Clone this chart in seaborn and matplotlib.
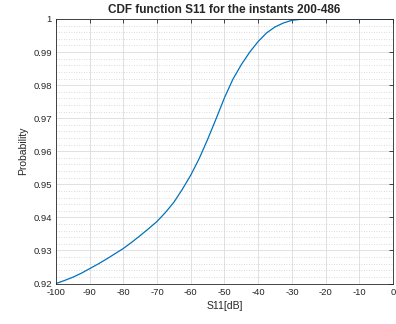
import numpy as np
import pandas as pd
import matplotlib
matplotlib.use("Agg")
import matplotlib.pyplot as plt
import seaborn as sns
from matplotlib.ticker import MultipleLocator

s11_db = [-100, -97.5, -95, -92.5, -90, -87.5, -85, -82.5, -80, -77.5, -75, -72.5, -70,
          -67.5, -65, -62.5, -60, -57.5, -55, -52.5, -50, -47.5, -45, -42.5, -40,
          -37.5, -35, -32.5, -30, -27.5, -25, -20, -15, -10, -5, 0]
probability = [0.9200, 0.9209, 0.9219, 0.9231, 0.9245, 0.9259, 0.9274, 0.9290, 0.9306, 0.9325, 0.9345, 0.9366, 0.9388,
               0.9415, 0.9446, 0.9485, 0.9528, 0.9578, 0.9636, 0.9698, 0.9762, 0.9818, 0.9862, 0.9900, 0.9932,
               0.9958, 0.9976, 0.9988, 0.9996, 0.9999, 1.0, 1.0, 1.0, 1.0, 1.0, 1.0]
x_ticks = list(range(-100, 1, 10))
y_ticks = [0.92, 0.93, 0.94, 0.95, 0.96, 0.97, 0.98, 0.99, 1.0]
y_tick_labels = ["0.92", "0.93", "0.94", "0.95", "0.96", "0.97", "0.98", "0.99", "1"]

sns.set_theme(style="white")
plt.rcParams['font.family'] = ['Liberation Sans', 'DejaVu Sans']
plt.rcParams['axes.unicode_minus'] = False

df = pd.DataFrame({"S11": s11_db, "P": probability})

fig = plt.figure(figsize=(3.96, 3.24), dpi=100)
ax = fig.add_axes([0.1414, 0.125, 0.851, 0.8164])

sns.lineplot(data=df, x="S11", y="P", ax=ax, color="#0072BD", linewidth=0.9)

ax.set_xlim(-100, 0)
ax.set_ylim(0.92, 1.0)
ax.set_xticks(x_ticks)
ax.set_yticks(y_ticks)
ax.set_yticklabels(y_tick_labels)
ax.yaxis.set_minor_locator(MultipleLocator(0.002))

ax.grid(True, which="major", color="#dcdcdc", linewidth=0.6, linestyle="-")
ax.grid(True, which="minor", axis="y", color="#cfcfcf", linewidth=0.6, linestyle=(0, (1, 2)))
ax.set_axisbelow(True)

ax.tick_params(axis="both", which="major", direction="in", length=3, width=0.6,
               top=True, right=True, labelsize=6.8, colors="#262626", pad=3)
ax.tick_params(axis="y", which="minor", left=False, right=False)
for sp in ax.spines.values():
    sp.set_color("#262626")
    sp.set_linewidth(0.6)

ax.set_xlabel("S11[dB]", fontsize=7.5, color="#262626", labelpad=3)
ax.set_ylabel("Probability", fontsize=7.5, color="#262626", labelpad=4)
ax.set_title("CDF function S11 for the instants 200-486", fontsize=8.5, fontweight="bold", pad=4)

fig.savefig("out.png", dpi=100)
